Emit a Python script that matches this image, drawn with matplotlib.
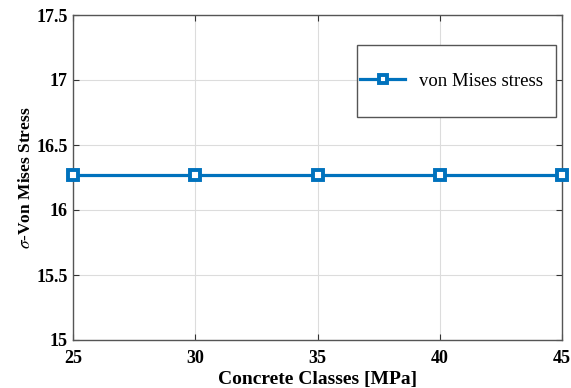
import matplotlib
matplotlib.use("Agg")
import matplotlib.pyplot as plt
from matplotlib.patches import Rectangle

plt.rcParams['font.family'] = ['Liberation Serif', 'DejaVu Serif']
plt.rcParams['mathtext.fontset'] = 'stix'

concrete_classes = [25, 30, 35, 40, 45]
von_mises = [16.27, 16.27, 16.27, 16.27, 16.27]
x_ticks = [25, 30, 35, 40, 45]
y_ticks = [15, 15.5, 16, 16.5, 17, 17.5]
y_ticklabels = ['15', '15.5', '16', '16.5', '17', '17.5']

W, H = 571, 388
fig = plt.figure(figsize=(W / 100, H / 100), dpi=100)
ax_l, ax_r, ax_t, ax_b = 73, 562, 15, 340
ax = fig.add_axes([ax_l / W, (H - ax_b) / H, (ax_r - ax_l) / W, (ax_b - ax_t) / H])

ax.plot(concrete_classes, von_mises, color='#0072BD', linewidth=2.3,
        marker='s', markersize=7.5, markerfacecolor='white',
        markeredgecolor='#0072BD', markeredgewidth=2.8,
        label='von Mises stress', clip_on=False, zorder=5)

ax.set_xlim(25, 45)
ax.set_ylim(15, 17.5)
ax.set_xticks(x_ticks)
ax.set_yticks(y_ticks)
ax.set_yticklabels(y_ticklabels)
ax.grid(True, color='#dcdcdc', linewidth=0.8)
ax.tick_params(direction='in', top=True, right=True, length=4,
               width=0.8, colors='#333333', labelcolor='black', labelsize=13)
ax.tick_params(axis='y', pad=4)
ax.tick_params(axis='x', pad=7)
for lbl in ax.get_xticklabels() + ax.get_yticklabels():
    lbl.set_fontweight('bold')
for s in ax.spines.values():
    s.set_color('#555555')
    s.set_linewidth(1.0)

ax.set_xlabel('Concrete Classes [MPa]', fontsize=14, fontweight='bold', labelpad=3)
ax.set_ylabel(r'$\sigma$-Von Mises Stress', fontsize=12.5, fontweight='bold', labelpad=1.5)


def px_to_axes(x, y):
    return (x - ax_l) / (ax_r - ax_l), (ax_b - y) / (ax_b - ax_t)


# legend frame drawn as its own box
bx0, by0 = px_to_axes(357, 117)
bx1, by1 = px_to_axes(556, 45)
frame = Rectangle((bx0, by0), bx1 - bx0, by1 - by0, transform=ax.transAxes,
                  facecolor='white', edgecolor='#555555', linewidth=1.0, zorder=6)
ax.add_patch(frame)

lx, ly = px_to_axes(360, 81)
leg = ax.legend(loc='center left', bbox_to_anchor=(lx, ly), fontsize=13.5,
                frameon=False, borderpad=0, borderaxespad=0,
                handlelength=2.4, handletextpad=0.75, markerscale=0.85)
leg.set_zorder(7)

fig.savefig('out.png', dpi=100)
